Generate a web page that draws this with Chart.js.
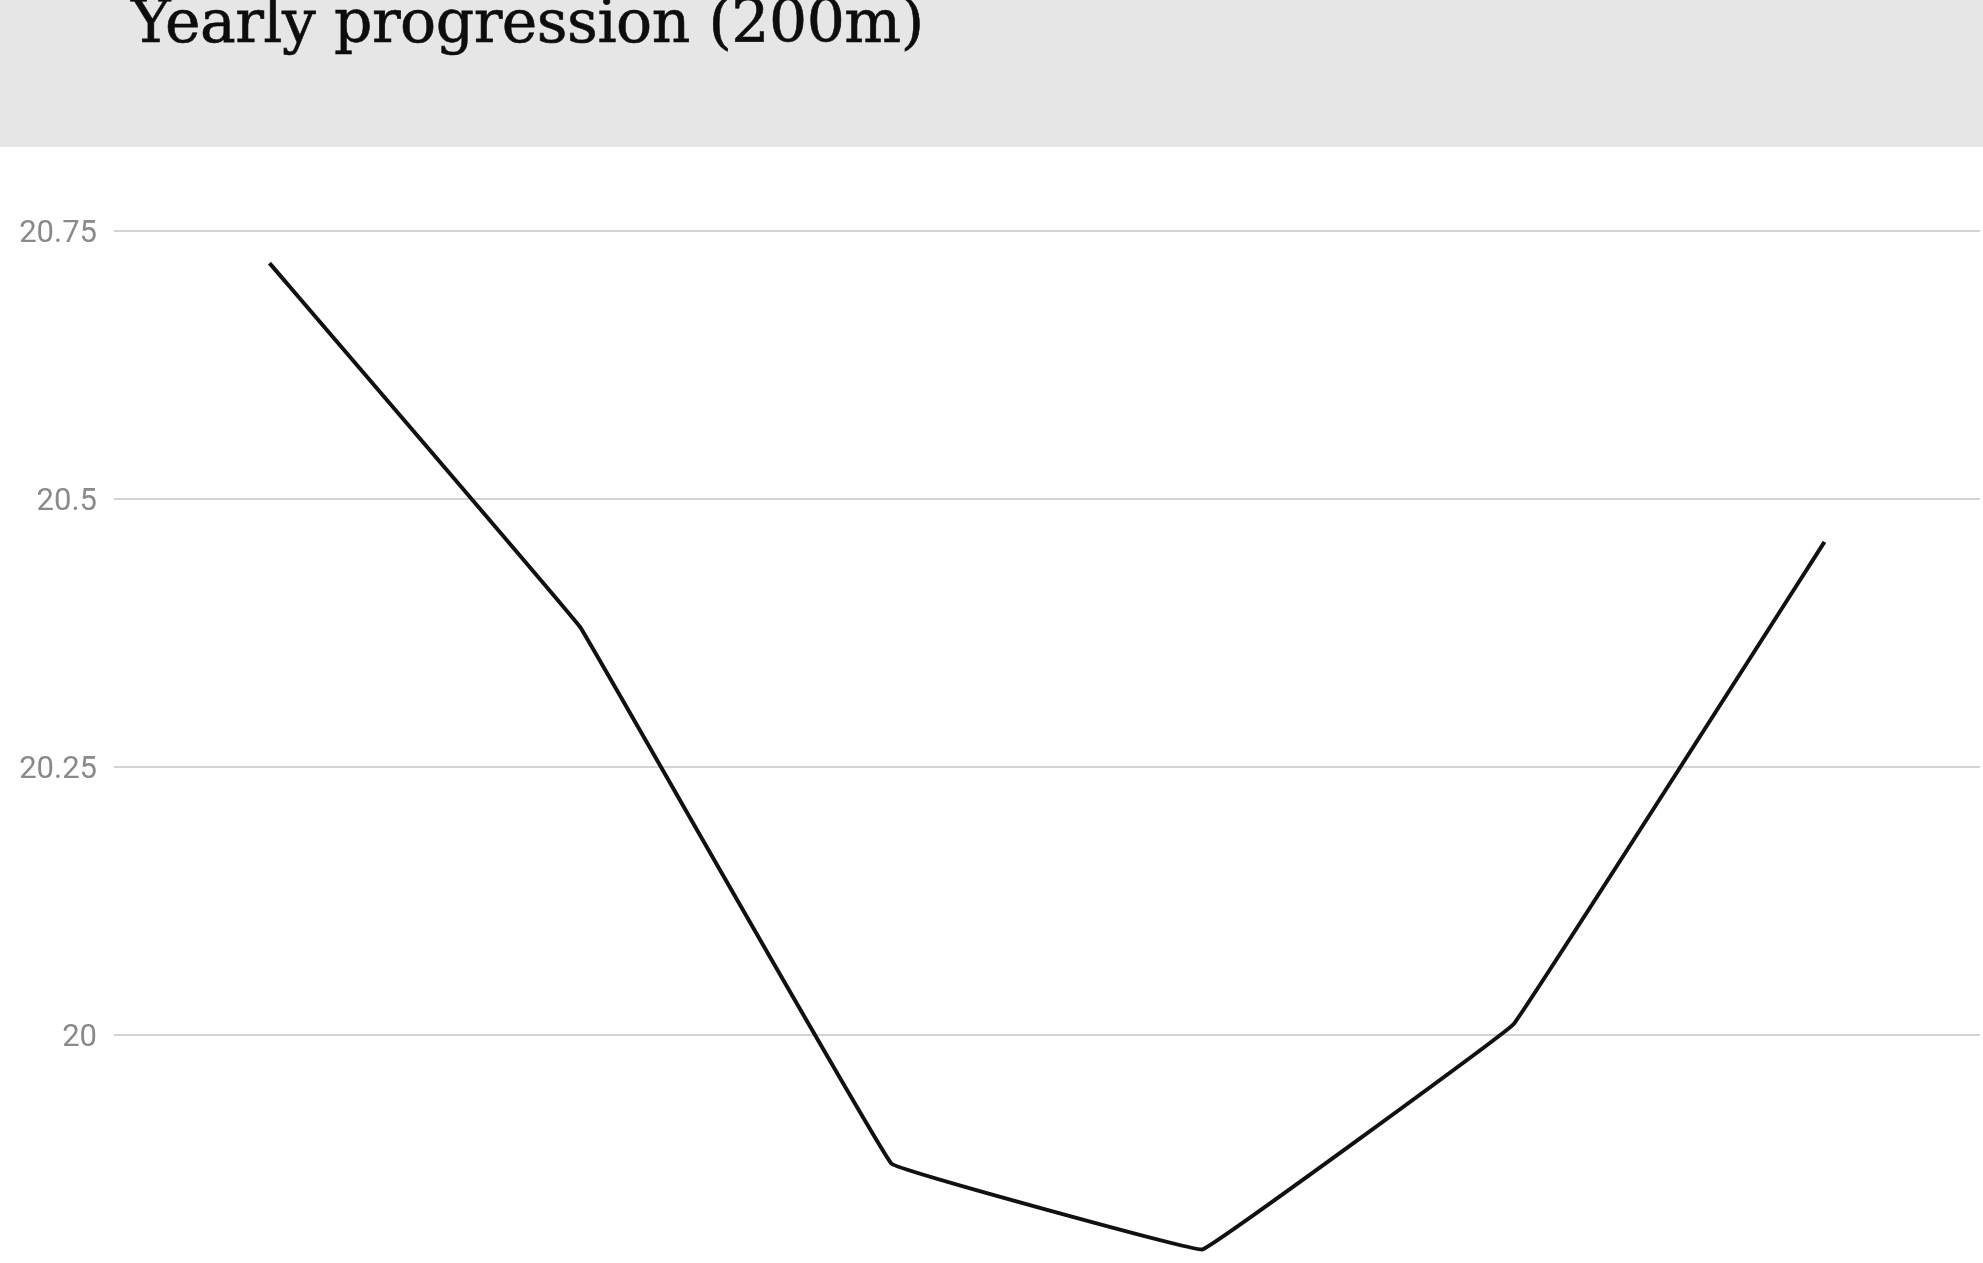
<!DOCTYPE html>
<html>
<head>
<meta charset="utf-8">
<script src="https://cdn.jsdelivr.net/npm/chart.js@4"></script>
<style>
  html, body { margin: 0; padding: 0; width: 1983px; height: 1263px; overflow: hidden; background: #fff; }
  #header { position: absolute; left: 0; top: 0; width: 1983px; height: 147px; background: #e6e6e6; }
  #title { position: absolute; left: 131px; top: -14px; margin: 0; font-family: "DejaVu Serif", serif; font-weight: normal; font-size: 60px; letter-spacing: -0.5px; color: #0d0d0d; white-space: nowrap; -webkit-text-stroke: 0.6px #0d0d0d; }
  #wrap { position: absolute; left: 0; top: 147px; width: 1983px; height: 1200px; }
</style>
</head>
<body>
<div id="header"><h1 id="title">Yearly progression (200m)</h1></div>
<div id="wrap"><canvas id="c"></canvas></div>
<script>
// Season labels and 200m times (seconds)
const seasons = ['2013', '2014', '2015', '2016', '2017', '2018'];
const times200 = [20.72, 20.38, 19.88, 19.80, 20.01, 20.46];
const yTicks = [19.75, 20, 20.25, 20.5, 20.75];

new Chart(document.getElementById('c'), {
  type: 'line',
  data: {
    labels: seasons,
    datasets: [{
      data: times200,
      borderColor: '#111',
      borderWidth: 4,
      pointRadius: 0,
      tension: 0.03,
      fill: false
    }]
  },
  options: {
    responsive: true,
    maintainAspectRatio: false,
    animation: false,
    layout: { padding: { top: 84, bottom: 44, left: 0, right: 3 } },
    plugins: { legend: { display: false }, tooltip: { enabled: false } },
    scales: {
      x: {
        type: 'category',
        offset: true,
        display: false
      },
      y: {
        min: yTicks[0],
        max: yTicks[yTicks.length - 1],
        afterBuildTicks: s => { s.ticks = yTicks.map(v => ({ value: v })); },
        afterFit: s => { s.width = 114; },
        border: { display: false },
        grid: { color: '#d4d4d4', lineWidth: 2, drawTicks: false },
        ticks: {
          padding: 17,
          labelOffset: 3,
          color: '#8a8a8a',
          font: { family: 'Roboto', size: 31 },
          callback: v => String(+Number(v).toFixed(2))
        }
      }
    }
  }
});
</script>
</body>
</html>
